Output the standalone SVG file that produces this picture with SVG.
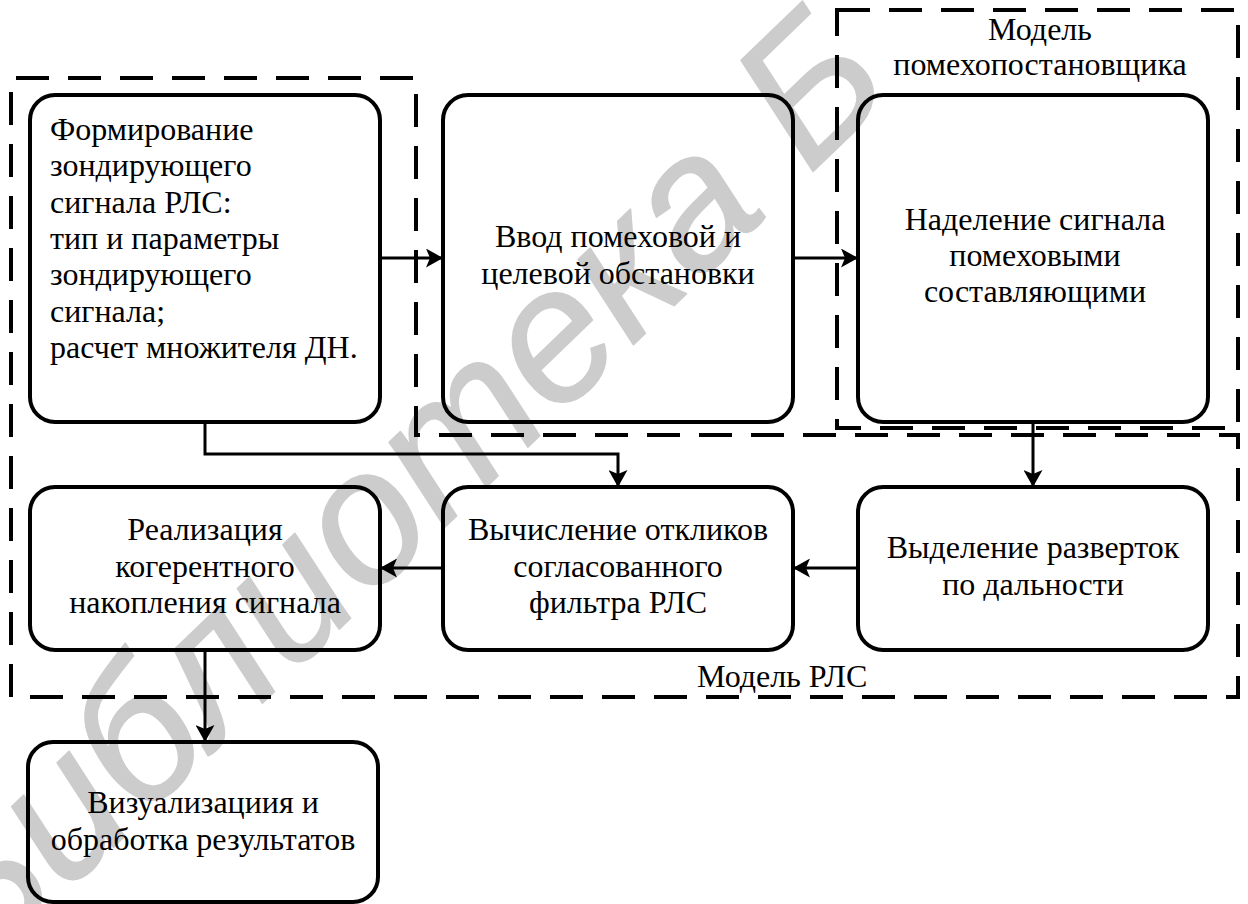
<svg xmlns="http://www.w3.org/2000/svg" width="1248" height="904" viewBox="0 0 1248 904">
<style>
.node{fill:none;stroke:#000;stroke-width:4}
.t{font-size:32px;fill:#000}
.c{text-anchor:middle}
.dash{fill:none;stroke:#000;stroke-width:4;stroke-dasharray:33 19}
.conn{fill:none;stroke:#000;stroke-width:3}
.wm{font-size:189px;font-style:italic;fill:#cccccc;stroke:#cccccc;stroke-width:1.5;stroke-linejoin:round}
</style>
<defs>
<marker id="arr" markerUnits="userSpaceOnUse" viewBox="0 0 17 19" markerWidth="17" markerHeight="19" refX="17" refY="9.5" orient="auto">
<path d="M0,0 L17,9.5 L0,19 L4,9.5 Z" fill="#000"/>
</marker>
</defs>
<rect width="1248" height="904" fill="#fff"/>
<g id="watermark" font-family="Liberation Sans, Arial, sans-serif"><text class="wm" transform="translate(-23,979) rotate(-44)">Библиотека Б</text></g>
<g font-family="Liberation Serif, Times New Roman, DejaVu Serif, serif">
<g id="node1"><rect class="node" x="30" y="95" width="350" height="327" rx="25"/>
<text class="t" x="50" y="140">Формирование</text>
<text class="t" x="50" y="176">зондирующего</text>
<text class="t" x="50" y="213">сигнала РЛС:</text>
<text class="t" x="50" y="249">тип и параметры</text>
<text class="t" x="50" y="285">зондирующего</text>
<text class="t" x="50" y="322">сигнала;</text>
<text class="t" x="50" y="358">расчет множителя ДН.</text></g>
<g id="node2"><rect class="node" x="443" y="95" width="350" height="327" rx="25"/>
<text class="t c" x="618" y="247">Ввод помеховой и</text>
<text class="t c" x="618" y="284">целевой обстановки</text></g>
<g id="node3"><rect class="node" x="858" y="95" width="350" height="327" rx="25"/>
<text class="t c" x="1035" y="230">Наделение сигнала</text>
<text class="t c" x="1035" y="266">помеховыми</text>
<text class="t c" x="1035" y="302">составляющими</text></g>
<g id="node4"><rect class="node" x="30" y="487" width="350" height="163" rx="25"/>
<text class="t c" x="205" y="540">Реализация</text>
<text class="t c" x="205" y="577">когерентного</text>
<text class="t c" x="205" y="613">накопления сигнала</text></g>
<g id="node5"><rect class="node" x="443" y="487" width="350" height="163" rx="25"/>
<text class="t c" x="618" y="540">Вычисление откликов</text>
<text class="t c" x="618" y="577">согласованного</text>
<text class="t c" x="618" y="613">фильтра РЛС</text></g>
<g id="node6"><rect class="node" x="858" y="487" width="350" height="163" rx="25"/>
<text class="t c" x="1033" y="558">Выделение разверток</text>
<text class="t c" x="1033" y="595">по дальности</text></g>
<g id="node7"><rect class="node" x="28" y="742" width="350" height="160" rx="25"/>
<text class="t c" x="203" y="813">Визуализациия и</text>
<text class="t c" x="203" y="850">обработка результатов</text></g>
<g id="groups">
<path class="dash" d="M11,697 V78 H416 V435 H1238 V697 Z"/>
<rect class="dash" x="837" y="10" width="401" height="418"/>
<text class="t c" x="1040" y="40">Модель</text>
<text class="t c" x="1040" y="75">помехопостановщика</text>
<text class="t" x="697" y="687">Модель РЛС</text>
</g>
</g>
<g id="connectors">
<path class="conn" d="M380,258 H443" marker-end="url(#arr)"/>
<path class="conn" d="M793,258 H858" marker-end="url(#arr)"/>
<path class="conn" d="M205,422 V454 H618 V487" marker-end="url(#arr)"/>
<path class="conn" d="M1033,422 V487" marker-end="url(#arr)"/>
<path class="conn" d="M858,568 H793" marker-end="url(#arr)"/>
<path class="conn" d="M443,568 H380" marker-end="url(#arr)"/>
<path class="conn" d="M205,650 V742" marker-end="url(#arr)"/>
</g>
</svg>
